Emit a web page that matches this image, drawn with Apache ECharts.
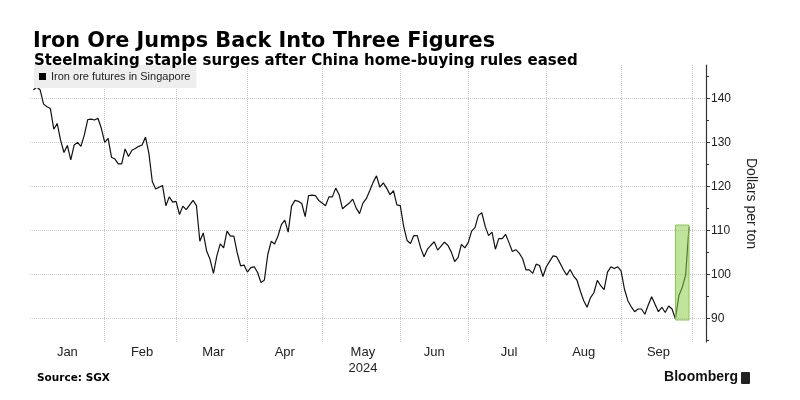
<!DOCTYPE html>
<html>
<head>
<meta charset="utf-8">
<script src="https://cdn.jsdelivr.net/npm/echarts@6/dist/echarts.min.js"></script>
<style>
  html, body { margin: 0; padding: 0; background: #ffffff; }
  #chart { width: 800px; height: 400px; }
</style>
</head>
<body>
<div id="chart"></div>
<script>
// ---- Data (Iron ore futures in Singapore, USD/ton, one value per weekday) ----
const jan = [null, 141.9, 142.6, 141.9, 138.7, 138.1, 137.7, 133.0, 134.3, 130.5, 127.7,
             129.3, 126.0, 129.4, 130.0, 129.1, 131.7, 135.2, 135.3, 135.1, 135.5, 133.2];
const feb = [130.0, 130.9, 126.6, 126.2, 125.1, 125.1, 128.5, 126.8, 128.2, 128.6, 129.1,
             129.4, 131.2, 127.5, 121.1, 119.4, 119.8, 120.2, 115.6, 117.6, 116.4];
const mar = [116.6, 113.6, 115.5, 114.7, 115.8, 116.8, 115.6, 107.5, 109.4, 105.3, 103.4,
             100.2, 104.2, 106.9, 106.0, 109.8, 108.7, 108.7, 104.9, 101.9, 102.1];
const apr = [100.5, 101.5, 101.7, 100.4, 98.1, 98.7, 104.5, 107.5, 106.9, 108.7, 111.3,
             112.3, 109.6, 115.5, 116.8, 116.6, 116.1, 113.1, 117.9, 118.0, 117.9, 116.8];
const may = [116.2, 115.6, 117.6, 117.6, 119.6, 118.1, 114.9, 115.6, 116.2, 117.1, 115.1,
             113.8, 116.2, 117.2, 119.0, 120.9, 122.4, 119.8, 120.8, 119.6, 118.1, 119.0, 115.8];
const jun = [115.6, 110.9, 107.7, 107.0, 108.8, 108.8, 106.0, 104.0, 105.7, 106.6,
             107.4, 105.5, 106.4, 107.3, 106.6, 105.1, 102.9, 103.8, 106.8, 106.0];
const jul = [107.2, 109.8, 110.6, 113.4, 114.0, 110.9, 108.8, 109.6, 105.7, 108.1, 108.1,
             109.1, 107.2, 105.2, 105.6, 104.8, 103.6, 101.0, 101.0, 100.2, 102.3, 102.0, 99.5];
const aug = [101.7, 103.0, 104.2, 104.0, 102.6, 101.1, 99.8, 101.1, 99.6, 98.7, 96.2,
             94.0, 92.5, 94.7, 95.8, 98.6, 97.4, 96.5, 100.5, 101.7, 101.3, 101.7];
const sep = [100.8, 96.6, 94.0, 92.6, 91.5, 92.1, 92.1, 90.9, 93.0, 94.9, 93.2,
             91.5, 92.5, 91.3, 92.8, 92.1, 89.9, 95.1, 97.0, 99.8, 110.8];

const monthNames = ['Jan', 'Feb', 'Mar', 'Apr', 'May', 'Jun', 'Jul', 'Aug', 'Sep'];
const yearLabel = '2024';
const yearUnderMonth = 'May';
const yTicks = [90, 100, 110, 120, 130, 140];
const yMinorTicks = [85, 95, 105, 115, 125, 135, 145];
const yRange = [84.6, 147.6];
const highlightDates = ['2024-09-24', '2024-09-30'];
const axisFirstDay = '2024-01-02';
const axisLastDay = '2024-10-07';

// ---- Weekday categories ----
function ymd(d) {
  const m = String(d.getUTCMonth() + 1).padStart(2, '0');
  const dd = String(d.getUTCDate()).padStart(2, '0');
  return d.getUTCFullYear() + '-' + m + '-' + dd;
}
const categories = [];
{
  const d = new Date(axisFirstDay + 'T00:00:00Z');
  const end = new Date(axisLastDay + 'T00:00:00Z');
  while (d <= end) {
    const wd = d.getUTCDay();
    if (wd !== 0 && wd !== 6) categories.push(ymd(d));
    d.setUTCDate(d.getUTCDate() + 1);
  }
}
const values = [].concat(jan, feb, mar, apr, may, jun, jul, aug, sep);

// Month boundary indices
const monthStarts = [0];
for (let i = 1; i < categories.length; i++) {
  if (categories[i].slice(5, 7) !== categories[i - 1].slice(5, 7)) monthStarts.push(i);
}
const gridIdx = new Set(monthStarts.slice(1));
const labelAt = {};
for (let m = 0; m < monthNames.length; m++) {
  const idx = Math.round((monthStarts[m] + monthStarts[m + 1]) / 2);
  labelAt[idx] = monthNames[m] === yearUnderMonth ? monthNames[m] + '\n' + yearLabel : monthNames[m];
}

// Highlight box from the data it covers
const hi0 = categories.indexOf(highlightDates[0]);
const hi1 = categories.indexOf(highlightDates[1]);
const hiVals = values.slice(hi0, hi1 + 1);
const hiLow = Math.min.apply(null, hiVals) - 0.3;
const hiHigh = Math.max.apply(null, hiVals) + 0.4;

const chart = echarts.init(document.getElementById('chart'), null, { renderer: 'canvas' });
chart.setOption({
  animation: false,
  backgroundColor: '#ffffff',
  title: [
    { text: 'Iron Ore Jumps Back Into Three Figures', left: 33, top: 31, padding: 0,
      textStyle: { fontFamily: 'DejaVu Sans', fontWeight: 'bold', fontSize: 20.8, color: '#000' } },
    { text: 'Steelmaking staple surges after China home-buying rules eased', left: 34, top: 54, padding: 0,
      textStyle: { fontFamily: 'DejaVu Sans', fontWeight: 'bold', fontSize: 15, color: '#000' } },
    { text: 'Source: SGX', left: 37, top: 373, padding: 0,
      textStyle: { fontFamily: 'DejaVu Sans', fontWeight: 'bold', fontSize: 10.5, color: '#000' } },
    { text: 'Bloomberg', right: 62, top: 370, padding: 0,
      textStyle: { fontFamily: 'Liberation Sans', fontWeight: 'bold', fontSize: 14, color: '#111' } }
  ],
  graphic: [
    { type: 'rect', right: 50, top: 372, shape: { width: 9, height: 12, r: 1 }, style: { fill: '#222' } }
  ],
  legend: {
    left: 34, top: 65,
    padding: [6, 6, 6, 5],
    backgroundColor: '#eeeeee',
    icon: 'rect', itemWidth: 7, itemHeight: 7,
    textStyle: { fontFamily: 'Liberation Sans', fontSize: 11, color: '#222' },
    data: [{ name: 'Iron ore futures in Singapore', itemStyle: { color: '#000' } }]
  },
  grid: { left: 30, right: 94, top: 65, bottom: 58, containLabel: false },
  xAxis: {
    type: 'category',
    data: categories,
    boundaryGap: false,
    axisLine: { show: false },
    axisTick: { show: false },
    axisLabel: {
      interval: function (i) { return labelAt[i] !== undefined; },
      formatter: function (v, i) { return labelAt[i] || ''; },
      margin: 2,
      lineHeight: 16,
      fontFamily: 'Liberation Sans', fontSize: 13, color: '#222'
    },
    splitLine: {
      show: true,
      interval: function (i) { return gridIdx.has(i); },
      lineStyle: { type: 'dotted', color: '#cccccc', width: 1 }
    }
  },
  yAxis: [
    {
      type: 'value', position: 'right',
      min: yRange[0], max: yRange[1],
      name: 'Dollars per ton', nameLocation: 'middle', nameRotate: -90, nameGap: 38,
      nameTextStyle: { fontFamily: 'Liberation Sans', fontSize: 14, color: '#222' },
      axisLine: { show: true, lineStyle: { color: '#333', width: 1.2 } },
      axisTick: { show: true, length: 4, customValues: yTicks, lineStyle: { color: '#333' } },
      axisLabel: { customValues: yTicks, margin: 5, fontFamily: 'Liberation Sans', fontSize: 12, color: '#222' },
      splitLine: { show: true, lineStyle: { type: 'dotted', color: '#cccccc', width: 1 } }
    },
    {
      type: 'value', position: 'right',
      min: yRange[0], max: yRange[1],
      axisLine: { show: false },
      axisTick: { show: true, length: 3, customValues: yMinorTicks, lineStyle: { color: '#333' } },
      axisLabel: { show: false },
      splitLine: { show: false }
    }
  ],
  series: [{
    name: 'Iron ore futures in Singapore',
    type: 'line',
    data: values,
    yAxisIndex: 0,
    showSymbol: false,
    symbol: 'none',
    itemStyle: { color: '#000' },
    lineStyle: { color: '#111', width: 1.2 },
    markArea: {
      silent: true,
      z: 10,
      label: { show: false },
      itemStyle: { color: 'rgba(140,205,75,0.55)', borderColor: '#86c25a', borderWidth: 1 },
      data: [[{ xAxis: highlightDates[0], yAxis: hiLow }, { xAxis: highlightDates[1], yAxis: hiHigh }]]
    }
  }]
});
</script>
</body>
</html>
